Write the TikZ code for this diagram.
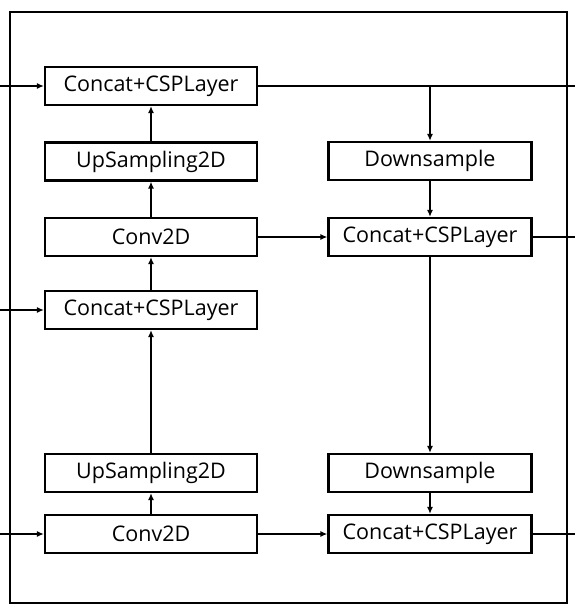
\documentclass[tikz,border=0pt]{standalone}
\usepackage{fontspec}
\setmainfont{Open Sans}
\usetikzlibrary{arrows.meta}
\begin{document}
\begin{tikzpicture}[x=1pt,y=-1pt,
  blk/.style={draw,line width=2.2pt,minimum height=38pt,inner sep=0pt,font=\fontsize{21.5}{24}\selectfont},
  lblk/.style={blk,minimum width=212pt},
  rblk/.style={blk,minimum width=203pt},
  conn/.style={line width=2pt},
  arr/.style={conn,-{Latex[length=7pt,width=6pt]}}]
\useasboundingbox (0,0) rectangle (575,613);
\draw[line width=2.4pt] (10,12) rectangle (567,603);
\node[lblk] (c1) at (151,86) {Concat+CSPLayer};
\node[lblk] (u1) at (151,161.5) {UpSampling2D};
\node[lblk] (v1) at (151,237) {Conv2D};
\node[lblk] (c2) at (151,310) {Concat+CSPLayer};
\node[lblk] (u2) at (151,473) {UpSampling2D};
\node[lblk] (v2) at (151,534) {Conv2D};
\node[rblk] (d1) at (430,161) {Downsample};
\node[rblk] (r1) at (430,237) {Concat+CSPLayer};
\node[rblk] (d2) at (430,473) {Downsample};
\node[rblk] (r2) at (430,534) {Concat+CSPLayer};
\coordinate (i1) at (0,86);
\coordinate (i2) at (0,310);
\coordinate (i3) at (0,534);
\coordinate (o1) at (575,86);
\coordinate (o2) at (575,237);
\coordinate (o3) at (575,534);
\coordinate (j1) at (d1.north |- c1);
\draw[arr] (i1) -- (c1.west);
\draw[arr] (i2) -- (c2.west);
\draw[arr] (i3) -- (v2.west);
\draw[conn] (c1.east) -- (o1);
\draw[arr] (j1) -- (d1.north);
\draw[arr] (d1) -- (r1);
\draw[arr] (u1) -- (c1);
\draw[arr] (v1) -- (u1);
\draw[arr] (c2) -- (v1);
\draw[arr] (u2) -- (c2);
\draw[arr] (v2) -- (u2);
\draw[arr] (v1.east) -- (r1.west);
\draw[arr] (v2.east) -- (r2.west);
\draw[arr] (r1) -- (d2);
\draw[arr] (d2) -- (r2);
\draw[conn] (r1.east) -- (o2);
\draw[conn] (r2.east) -- (o3);
\end{tikzpicture}
\end{document}
